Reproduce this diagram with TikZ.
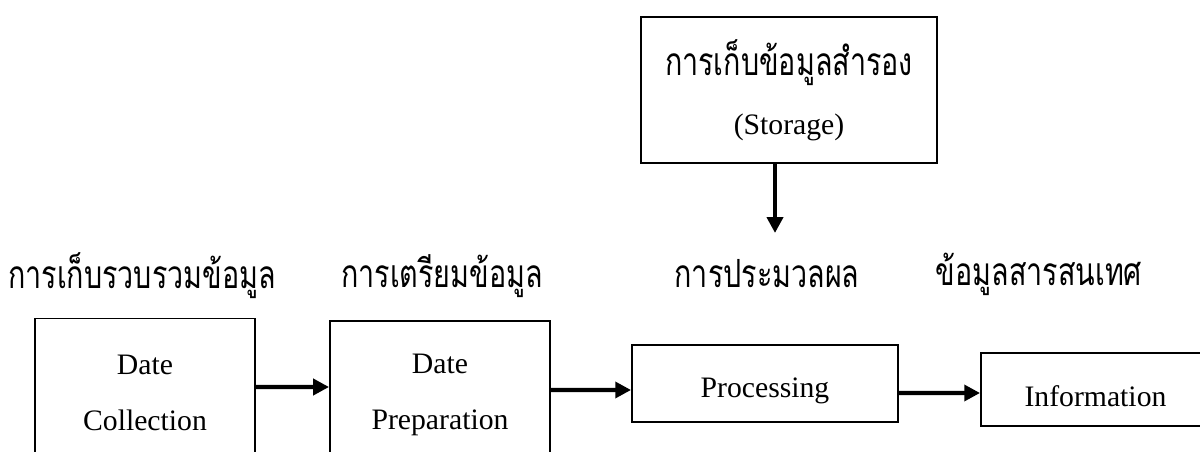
\documentclass[tikz,border=0pt]{standalone}
\usepackage{fontspec}
\usepackage{graphicx}
\setmainfont{Liberation Serif}
\newfontfamily\thaifont[Script=Thai]{Loma}
\newcommand\thaitxt[1]{\scalebox{0.96}[1.3]{\thaifont\fontsize{17}{20}\selectfont #1}}
\usetikzlibrary{arrows.meta}
\tikzset{
  boxnode/.style={draw=black, line width=1.1pt, rectangle, inner sep=0pt, align=center,
    font=\fontsize{16.9}{32.3}\selectfont},
  thailabel/.style={inner sep=0pt},
  arr/.style={line width=2.3pt, -{Triangle[length=9pt,width=9pt]}}
}
\begin{document}
\begin{tikzpicture}[x=0.02cm,y=-0.02cm]
\useasboundingbox (0,0) rectangle (1200,452);
\clip (0,0) rectangle (1200,452);
% boxes
\node[boxnode, minimum width=4.4cm, minimum height=2.98cm] (col) at (145,393) {Date\\Collection};
\node[boxnode, minimum width=4.4cm, minimum height=2.96cm] (prep) at (440,395) {Date\\Preparation};
\node[boxnode, minimum width=5.32cm, minimum height=1.54cm] (proc) at (765,383.5) {\raisebox{-0.29cm}[0pt][0pt]{Processing}};
\node[boxnode, minimum width=4.58cm, minimum height=1.46cm] (info) at (1095.5,389.5) {\raisebox{-0.34cm}[0pt][0pt]{Information}};
\node[boxnode, minimum width=5.92cm, minimum height=2.92cm, font=\fontsize{16.9}{33.5}\selectfont] (stor) at (789,90)
  {\thaitxt{การเก็บข้อมูลสำรอง}\\(Storage)};
% labels
\node[thailabel] (lcol) at (142,276) {\thaitxt{การเก็บรวบรวมข้อมูล}};
\node[thailabel] (lprep) at (442,276) {\thaitxt{การเตรียมข้อมูล}};
\node[thailabel] (lproc) at (767,274) {\thaitxt{การประมวลผล}};
\node[thailabel] (linfo) at (1039,274) {\thaitxt{ข้อมูลสารสนเทศ}};
% connectors
\coordinate (storend) at (775,233);
\draw[arr] ([yshift=0.12cm]col.east) -- ([yshift=0.16cm]prep.west);
\draw[arr] ([yshift=0.10cm]prep.east) -- ([yshift=-0.13cm]proc.west);
\draw[arr] ([yshift=-0.19cm]proc.east) -- ([yshift=-0.07cm]info.west);
\draw[arr] (stor.south -| storend) -- (storend);
\end{tikzpicture}
\end{document}
